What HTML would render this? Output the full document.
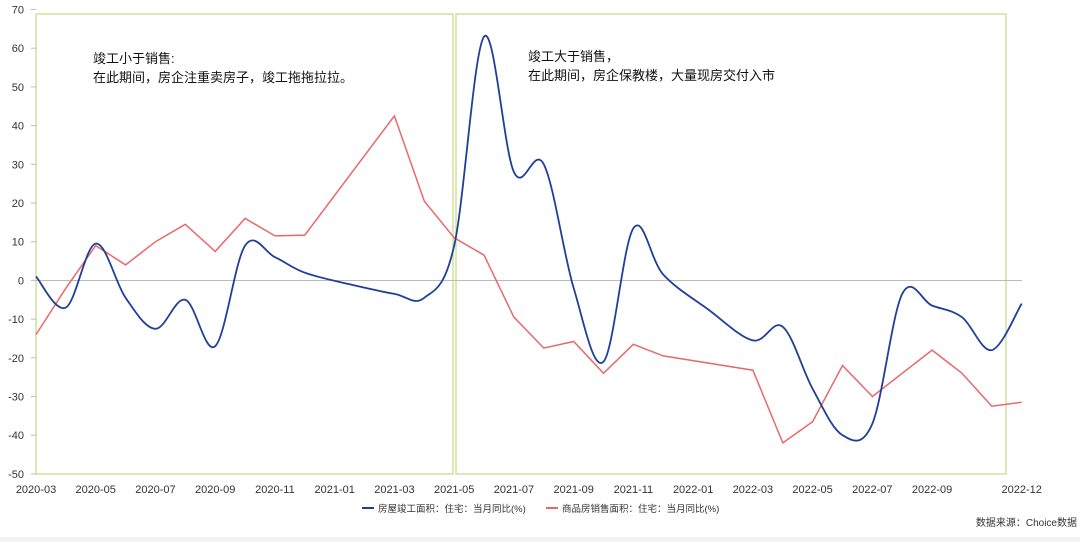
<!DOCTYPE html>
<html><head><meta charset="utf-8"><style>
body{margin:0;background:#fff;width:1080px;height:542px;overflow:hidden;font-family:"Liberation Sans","Noto Sans CJK SC",sans-serif}
</style></head><body>
<svg id="s" width="1080" height="542" xmlns="http://www.w3.org/2000/svg" font-family="Liberation Sans, Noto Sans CJK SC, sans-serif">
<rect x="0" y="537" width="1080" height="5" fill="#f2f2f2"/>
<rect x="36" y="14" width="417" height="460" fill="none" stroke="#c9dd8a" stroke-width="1.3"/>
<rect x="456" y="14" width="550" height="460" fill="none" stroke="#c9dd8a" stroke-width="1.3"/>
<line x1="36" y1="280.5" x2="1022" y2="280.5" stroke="#bbb" stroke-width="1"/>
<g id="yt" font-size="11" fill="#333" text-anchor="end"></g>
<g id="xt" font-size="11" fill="#333" text-anchor="middle"></g>
<path id="red" fill="none" stroke="#e8696b" stroke-width="1.5"/>
<path id="blue" fill="none" stroke="#1f3f99" stroke-width="1.8"/>
<text x="93" y="63" font-size="13" fill="#111">竣工小于销售:</text>
<text x="93" y="82" font-size="13" fill="#111">在此期间，房企注重卖房子，竣工拖拖拉拉。</text>
<text x="528" y="61" font-size="13" fill="#111">竣工大于销售，</text>
<text x="528" y="80" font-size="13" fill="#111">在此期间，房企保教楼，大量现房交付入市</text>
<line x1="362" y1="508" x2="374" y2="508" stroke="#1f3f99" stroke-width="2"/>
<text x="378" y="512" font-size="9.5" fill="#333">房屋竣工面积：住宅：当月同比(%)</text>
<line x1="546" y1="508" x2="558" y2="508" stroke="#e8696b" stroke-width="2"/>
<text x="562" y="512" font-size="9.5" fill="#333">商品房销售面积：住宅：当月同比(%)</text>
<text x="1077" y="526" font-size="10" fill="#333" text-anchor="end">数据来源：Choice数据</text>
</svg>
<script>
var Y=v=>280.4-v*3.87, X=m=>36+m*29.87;
var yt=document.getElementById('yt'),s='';
for(var v=-50;v<=70;v+=10){s+='<text x="24" y="'+(Y(v)+4)+'">'+v+'</text><line x1="31" x2="36" y1="'+Y(v)+'" y2="'+Y(v)+'" stroke="#bbb"/>';}
yt.innerHTML=s;
var labs=[[0,'2020-03'],[2,'2020-05'],[4,'2020-07'],[6,'2020-09'],[8,'2020-11'],[10,'2021-01'],[12,'2021-03'],[14,'2021-05'],[16,'2021-07'],[18,'2021-09'],[20,'2021-11'],[22,'2022-01'],[24,'2022-03'],[26,'2022-05'],[28,'2022-07'],[30,'2022-09'],[33,'2022-12']];
s='';labs.forEach(l=>s+='<text x="'+X(l[0])+'" y="493">'+l[1]+'</text>');
document.getElementById('xt').innerHTML=s;
var red=[[0,-14],[1,-2],[2,9],[3,4],[4,10],[5,14.5],[6,7.5],[7,16],[8,11.5],[9,11.7],[12,42.5],[13,20.5],[14,11],[15,6.5],[16,-9.5],[17,-17.5],[18,-15.8],[19,-24],[20,-16.5],[21,-19.5],[24,-23.2],[25,-42],[26,-36.5],[27,-22],[28,-30],[29,-24],[30,-18],[31,-24],[32,-32.5],[33,-31.5]];
document.getElementById('red').setAttribute('d','M'+red.map(p=>X(p[0]).toFixed(1)+','+Y(p[1]).toFixed(1)).join('L'));
var blue=[[0,1],[1,-7],[2,9.5],[3,-4.5],[4,-12.5],[5,-5],[6,-17],[7,9],[8,6],[9,2],[10.5,-1],[12,-3.5],[13,-4.5],[14,9],[15,63],[16,28],[17,30],[18,-2],[19,-21],[20,13.5],[21,1.5],[22.5,-7.5],[24,-15.5],[25,-12],[26,-28],[27,-40],[28,-37],[29,-3.5],[30,-6.5],[31,-9.5],[32,-18],[33,-6]];
var P=blue.map(p=>[X(p[0]),Y(p[1])]),d='M'+P[0][0]+','+P[0][1];
for(var i=0;i<P.length-1;i++){var p0=P[i-1]||P[i],p1=P[i],p2=P[i+1],p3=P[i+2]||p2,t=0.17;
d+='C'+(p1[0]+(p2[0]-p0[0])*t).toFixed(1)+','+(p1[1]+(p2[1]-p0[1])*t).toFixed(1)+' '+(p2[0]-(p3[0]-p1[0])*t).toFixed(1)+','+(p2[1]-(p3[1]-p1[1])*t).toFixed(1)+' '+p2[0].toFixed(1)+','+p2[1].toFixed(1);}
document.getElementById('blue').setAttribute('d',d);
</script>
</body></html>
